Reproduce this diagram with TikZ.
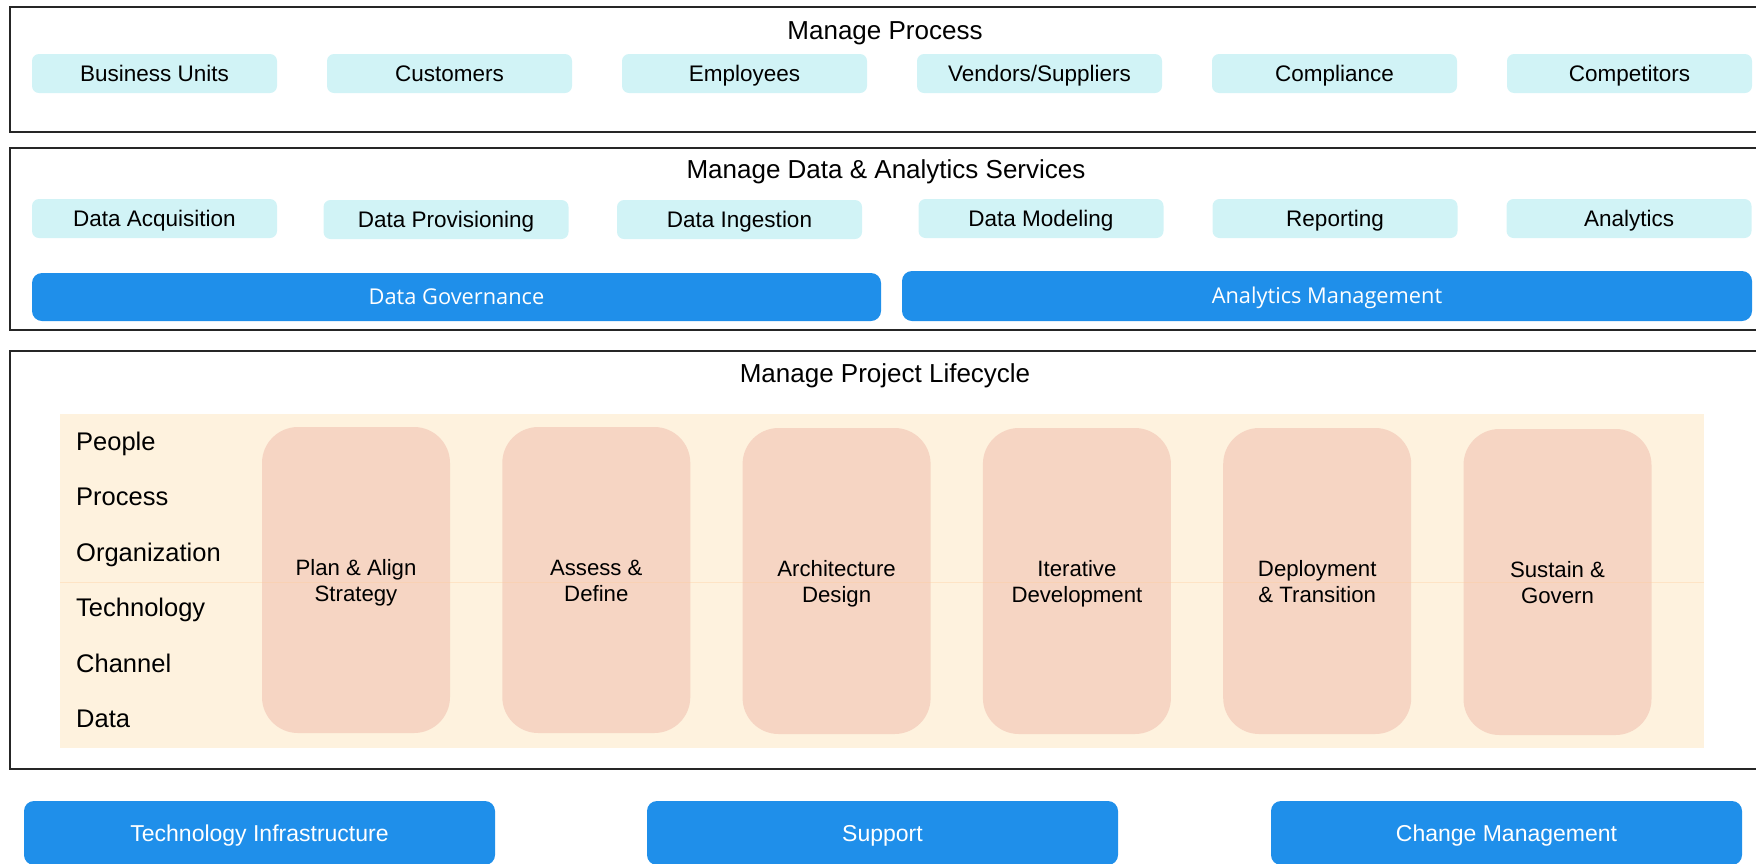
\documentclass[tikz,border=0pt]{standalone}
\usepackage{fontspec}
\setmainfont{Liberation Sans}
\newfontfamily\barfont{Open Sans}

\definecolor{itemcyan}{HTML}{D1F3F6}
\definecolor{barblue}{HTML}{1F8FEA}
\definecolor{lifecream}{HTML}{FEF2DE}
\definecolor{stagepeach}{HTML}{F6D5C3}

\tikzset{
  layer/.style={draw=black!85, line width=1.5pt},
  heading/.style={anchor=base, font=\fontsize{26}{30}\selectfont},
  item/.style={fill=itemcyan, rounded corners=7pt, minimum width=245pt, minimum height=39pt, inner sep=0pt, text height=16pt, text depth=0pt, font=\fontsize{22.5}{26}\selectfont},
  mgmt/.style={fill=barblue, rounded corners=10pt, text=white, inner sep=0pt, text height=15.7pt, text depth=0pt, font=\barfont\fontsize{21.8}{26}\selectfont},
  stage/.style={fill=stagepeach, rounded corners=36pt, minimum width=188pt, minimum height=306pt, inner sep=0pt, align=center, text height=42pt, text depth=0pt, font=\fontsize{22.2}{26}\selectfont},
  facet/.style={anchor=base west, inner sep=0pt, font=\fontsize{25.5}{30}\selectfont},
  footbar/.style={fill=barblue, rounded corners=10pt, text=white, minimum width=471pt, minimum height=64pt, inner sep=0pt, text height=16.5pt, text depth=0pt, font=\fontsize{23}{27}\selectfont}
}

\begin{document}
\begin{tikzpicture}[x=1pt, y=-1pt]
\useasboundingbox (0,0) rectangle (1756,863);

% three layers
\draw[layer] (10,7) rectangle (1760,132);
\draw[layer] (10,148) rectangle (1760,330);
\draw[layer] (10,351) rectangle (1760,769);

% manage process
\node[heading] (proc) at (885,39) {Manage Process};
\node[item] (units) at (154.5,73.5) {Business Units};
\node[item] (cust) at (449.5,73.5) {Customers};
\node[item] (empl) at (744.5,73.5) {Employees};
\node[item] (vend) at (1039.5,73.5) {Vendors/Suppliers};
\node[item] (compl) at (1334.5,73.5) {Compliance};
\node[item] (compet) at (1629.5,73.5) {Competitors};

% manage data & analytics services
\node[heading] (dataserv) at (886,178) {Manage Data \& Analytics Services};
\node[item] (acq) at (154.5,218.5) {Data Acquisition};
\node[item] (prov) at (446,219.5) {Data Provisioning};
\node[item] (ingest) at (739.5,219.5) {Data Ingestion};
\node[item] (model) at (1041,218.5) {Data Modeling};
\node[item] (report) at (1335,218.5) {Reporting};
\node[item] (anly) at (1629,218.5) {Analytics};
\node[mgmt, minimum width=849pt, minimum height=48pt] (gov) at (456.5,297) {Data Governance};
\node[mgmt, minimum width=850pt, minimum height=50pt] (anmgmt) at (1327,296) {Analytics Management};

% manage project lifecycle
\node[heading] (life) at (885,382) {Manage Project Lifecycle};
\fill[lifecream] (60,414) rectangle (1704,748);

\node[facet] (people) at (76,450) {People};
\node[facet] (process) at (76,505.5) {Process};
\node[facet] (org) at (76,561) {Organization};
\node[facet] (tech) at (76,616.5) {Technology};
\node[facet] (channel) at (76,672) {Channel};
\node[facet] (data) at (76,727.5) {Data};

\node[stage] (plan) at (356,580) {Plan \& Align\\Strategy};
\node[stage] (assess) at (596.3,580) {Assess \&\\Define};
\node[stage] (arch) at (836.6,581) {Architecture\\Design};
\node[stage] (iter) at (1076.9,581) {Iterative\\Development};
\node[stage] (deploy) at (1317.2,581) {Deployment\\\& Transition};
\node[stage] (sustain) at (1557.5,582) {Sustain \&\\Govern};

\draw[orange!40, opacity=0.35, line width=0.8pt] (60,582) -- (1704,582);

% bottom bars
\node[footbar] (infra) at (259.5,833) {Technology Infrastructure};
\node[footbar] (support) at (882.5,833) {Support};
\node[footbar] (change) at (1506.5,833) {Change Management};

\end{tikzpicture}
\end{document}
